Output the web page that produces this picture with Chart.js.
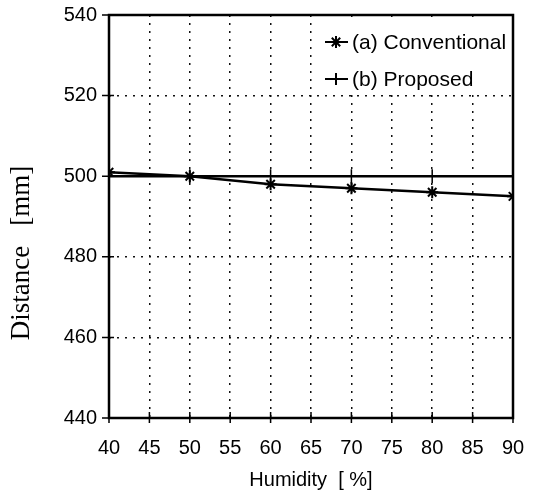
<!DOCTYPE html>
<html>
<head>
<meta charset="utf-8">
<script src="https://cdn.jsdelivr.net/npm/chart.js@4/dist/chart.umd.min.js"></script>
<style>
  html, body { margin: 0; padding: 0; background: #fff; }
  #wrap { width: 535px; height: 496px; }
</style>
</head>
<body>
<div id="wrap"><canvas id="chart" width="535" height="496"></canvas></div>
<script>
// 데이터
const humidity = [40, 50, 60, 70, 80, 90];
const conventional = [501, 500, 498, 497, 496, 495];
const proposed = [500, 500, 500, 500, 500, 500];
const seriesNames = ['(a) Conventional', '(b) Proposed'];
const xTitle = 'Humidity  [ %]';
const yTitle = 'Distance   [mm]';

const sansFont = 'Arial, "Liberation Sans", sans-serif';
const serifFont = '"Liberation Serif", "Times New Roman", serif';

function toPoints(ys) {
  return humidity.map((x, i) => ({ x: x, y: ys[i] }));
}

// 마커 그리기 (범례용)
function drawMarker(ctx, style, x, y, r) {
  ctx.beginPath();
  ctx.moveTo(x - r, y); ctx.lineTo(x + r, y);
  ctx.moveTo(x, y - r); ctx.lineTo(x, y + r);
  if (style === 'star') {
    const d = r * 0.7;
    ctx.moveTo(x - d, y - d); ctx.lineTo(x + d, y + d);
    ctx.moveTo(x - d, y + d); ctx.lineTo(x + d, y - d);
  }
  ctx.stroke();
}

// 테두리, 눈금, 범례, 축 제목
const framePlugin = {
  id: 'frame',
  afterDraw(chart) {
    const ctx = chart.ctx;
    const a = chart.chartArea;
    const xs = chart.scales.x;
    const ys = chart.scales.y;
    ctx.save();
    ctx.strokeStyle = '#000';

    // 범례 영역 (격자 가림)
    const y520 = ys.getPixelForValue(520);
    ctx.fillStyle = '#fff';
    ctx.fillRect(318, a.top + 2, a.right - 320, y520 - a.top - 4);

    // 테두리
    ctx.lineWidth = 2.5;
    ctx.strokeRect(a.left, a.top, a.right - a.left, a.bottom - a.top);

    // 눈금
    ctx.lineWidth = 1.5;
    ctx.beginPath();
    xs.ticks.forEach(t => {
      const px = xs.getPixelForValue(t.value);
      ctx.moveTo(px, a.bottom - 6);
      ctx.lineTo(px, a.bottom + 5);
    });
    ys.ticks.forEach(t => {
      const py = ys.getPixelForValue(t.value);
      ctx.moveTo(a.left - 7, py);
      ctx.lineTo(a.left + 5, py);
    });
    ctx.stroke();

    // 범례
    const styles = ['star', 'cross'];
    ctx.fillStyle = '#000';
    ctx.font = '21px ' + sansFont;
    ctx.textBaseline = 'middle';
    ctx.textAlign = 'left';
    seriesNames.forEach((name, i) => {
      const ly = a.top + 27 + i * 37;
      ctx.lineWidth = 2;
      ctx.beginPath();
      ctx.moveTo(325, ly); ctx.lineTo(348, ly);
      ctx.stroke();
      drawMarker(ctx, styles[i], 336, ly, 6);
      ctx.fillText(name, 352, ly + 1);
    });

    // Y축 제목
    ctx.font = '27px ' + serifFont;
    ctx.textAlign = 'center';
    ctx.translate(22, 253);
    ctx.rotate(-Math.PI / 2);
    ctx.fillText(yTitle, 0, 0);
    ctx.restore();
  }
};

const ctx = document.getElementById('chart').getContext('2d');
new Chart(ctx, {
  type: 'line',
  data: {
    datasets: [
      {
        label: seriesNames[0],
        data: toPoints(conventional),
        borderColor: '#000',
        backgroundColor: '#000',
        borderWidth: 2.5,
        pointStyle: 'star',
        pointRadius: 6,
        pointBorderWidth: 2,
        tension: 0
      },
      {
        label: seriesNames[1],
        data: toPoints(proposed),
        borderColor: '#000',
        backgroundColor: '#000',
        borderWidth: 2.5,
        pointStyle: 'cross',
        pointRadius: 7,
        pointBorderWidth: 1.5,
        tension: 0
      }
    ]
  },
  options: {
    responsive: false,
    animation: false,
    layout: { padding: { top: 15, right: 22, left: 0, bottom: 0 } },
    plugins: {
      legend: { display: false },
      tooltip: { enabled: false }
    },
    scales: {
      x: {
        type: 'linear',
        min: 40,
        max: 90,
        ticks: {
          stepSize: 5,
          color: '#000',
          font: { family: sansFont, size: 20 },
          padding: 18,
          maxRotation: 0
        },
        grid: { color: '#111', lineWidth: 1.5, drawTicks: false },
        border: { display: false, dash: [2, 6] },
        title: {
          display: true,
          text: xTitle,
          color: '#000',
          font: { family: sansFont, size: 20 },
          padding: { top: 0, bottom: 4 }
        },
        afterFit(scale) {
          scale.height = 78;
          scale.paddingLeft = 0;
          scale.paddingRight = 0;
        }
      },
      y: {
        min: 440,
        max: 540,
        ticks: {
          stepSize: 20,
          color: '#000',
          font: { family: sansFont, size: 20 },
          padding: 12
        },
        grid: { color: '#111', lineWidth: 1.5, drawTicks: false },
        border: { display: false, dash: [2, 6] },
        afterFit(scale) {
          scale.width = 109;
          scale.paddingTop = 0;
          scale.paddingBottom = 0;
        }
      }
    }
  },
  plugins: [framePlugin]
});
</script>
</body>
</html>
